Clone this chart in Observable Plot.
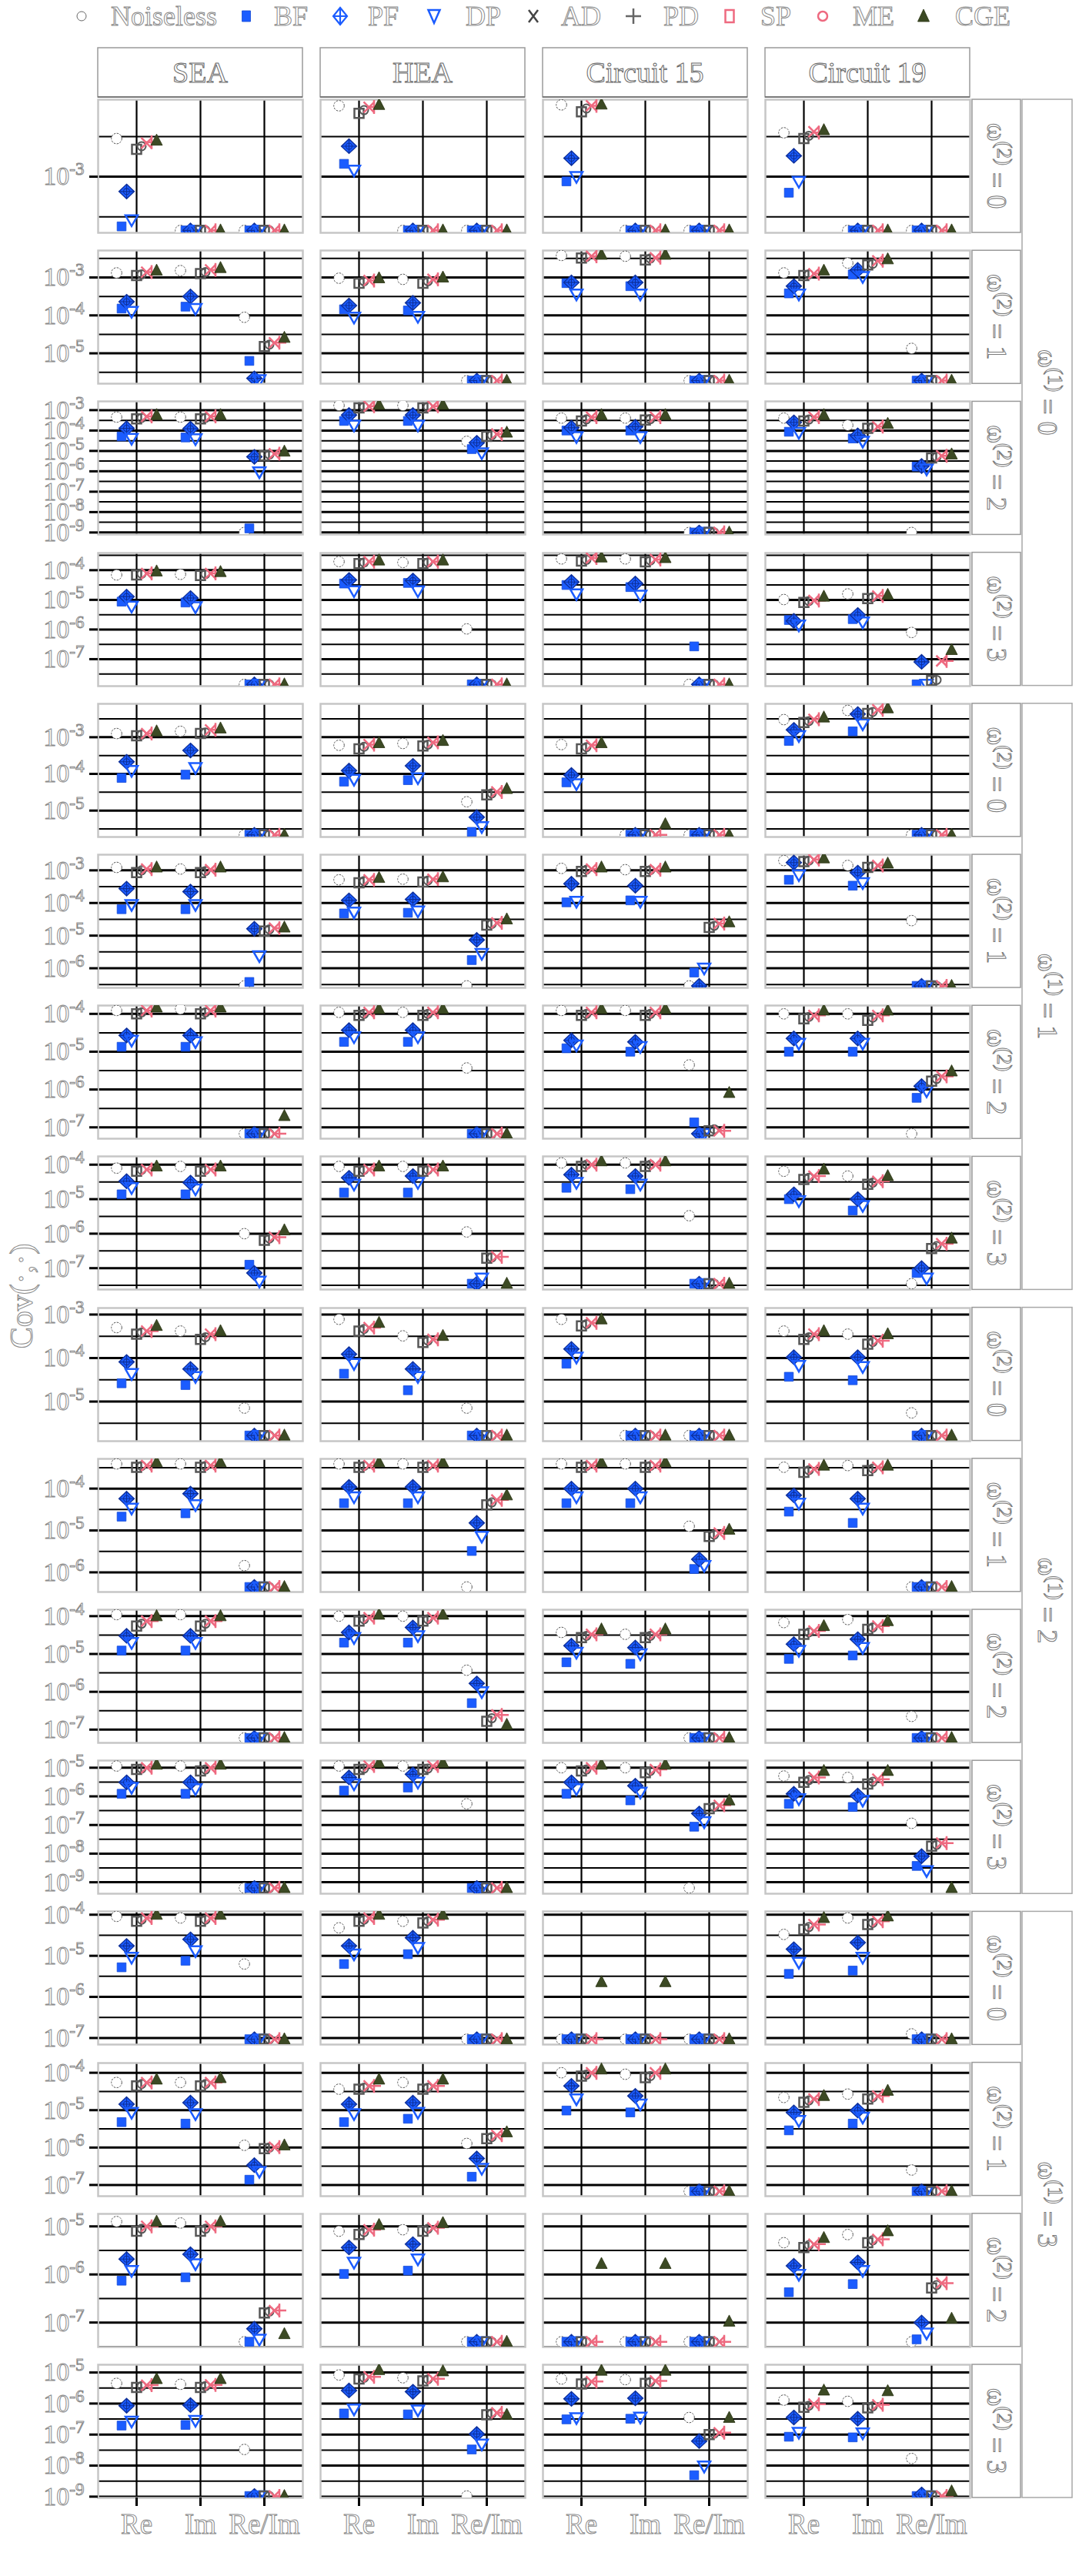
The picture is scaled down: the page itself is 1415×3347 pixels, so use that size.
<!DOCTYPE html>
<html><head><meta charset="utf-8">
<script src="https://cdn.jsdelivr.net/npm/d3@7"></script>
<script src="https://cdn.jsdelivr.net/npm/@observablehq/plot@0.6"></script>
<style>
body{margin:0;background:#fff;}
#chart{position:relative;width:1415px;height:3347px;overflow:hidden;background:#fff;}
#chart svg{position:absolute;left:0;}
</style></head><body><div id="chart"></div>
<script>
// ---------------- categories ----------------
const circuits = ["SEA", "HEA", "Circuit 15", "Circuit 19"];
const components = ["Re", "Im", "Re/Im"];
const methods = ["Noiseless", "BF", "PF", "DP", "AD", "PD", "SP", "ME", "CGE"];
const omega1Levels = [0, 1, 2, 3];
const omega2Levels = [0, 1, 2, 3];

// y range of each facet row (log10 of Cov), rows ordered w1=0..3 x w2=0..3
const yDomainLog10 = [
  [-3.70, -2.04], [-5.80, -2.29], [-9.10, -2.57], [-7.91, -3.42],
  [-5.72, -2.09], [-6.60, -2.52], [-7.30, -3.78], [-7.62, -3.76],
  [-5.91, -2.85], [-6.47, -3.29], [-7.35, -3.83], [-9.40, -4.75],
  [-7.16, -3.92], [-7.30, -3.74], [-7.51, -4.74], [-9.04, -4.75]
];

// values sitting on the bottom edge of each row (log10)
const F0 = -3.67, F1 = -5.72, F2 = -9.0, F3 = -7.85, F4 = -5.66, F5 = -6.54, F6 = -7.17, F7 = -7.45,
      F8 = -5.78, F9 = -6.35, F10 = -7.22, F11 = -9.2, F12 = -7.03, F13 = -7.17, F14 = -7.40, F15 = -8.98;

// log10 Cov values: [circuit][component Re, Im, Re/Im][method Noiseless,BF,PF,DP,AD,PD,SP,ME,CGE]
const log10Cov_w1_0_w2_0 = [
  [[-2.525,-3.62,-3.185,-3.54,-2.66,-2.62,-2.58,-2.57,-2.55],[F0,F0,F0,F0,F0,F0,F0,F0,F0],[F0,F0,F0,F0,F0,F0,F0,F0,F0]],
  [[-2.116,-2.84,-2.62,-2.92,-2.21,-2.17,-2.134,-2.13,-2.105],[F0,F0,F0,F0,F0,F0,F0,F0,F0],[F0,F0,F0,F0,F0,F0,F0,F0,F0]],
  [[-2.105,-3.058,-2.77,-3.0,-2.19,-2.15,-2.116,-2.116,-2.10],[F0,F0,F0,F0,F0,F0,F0,F0,F0],[F0,F0,F0,F0,F0,F0,F0,F0,F0]],
  [[-2.453,-3.20,-2.74,-3.06,-2.525,-2.49,-2.44,-2.45,-2.42],[F0,F0,F0,F0,F0,F0,F0,F0,F0],[F0,F0,F0,F0,F0,F0,F0,F0,F0]]
];
const log10Cov_w1_0_w2_1 = [
  [[-2.88,-3.82,-3.64,-3.90,-2.95,-2.92,-2.86,-2.86,-2.82],[-2.82,-3.77,-3.50,-3.82,-2.90,-2.86,-2.80,-2.80,-2.75],[-4.05,-5.20,-5.66,-5.70,-4.82,-4.77,-4.72,-4.72,-4.59]],
  [[-3.02,-3.84,-3.74,-4.05,-3.15,-3.10,-3.08,-3.08,-3.02],[-3.05,-3.87,-3.67,-4.03,-3.15,-3.10,-3.05,-3.05,-3.00],[F1,F1,F1,F1,F1,F1,F1,F1,F1]],
  [[-2.42,-3.15,-3.13,-3.44,-2.49,-2.46,-2.44,-2.44,-2.40],[-2.44,-3.23,-3.13,-3.44,-2.54,-2.50,-2.48,-2.48,-2.40],[F1,F1,F1,F1,F1,F1,F1,F1,F1]],
  [[-2.88,-3.42,-3.23,-3.44,-2.95,-2.92,-2.90,-2.90,-2.82],[-2.62,-2.92,-2.80,-2.98,-2.67,-2.64,-2.56,-2.56,-2.52],[-4.87,F1,F1,F1,F1,F1,F1,F1,F1]]
];
const log10Cov_w1_0_w2_2 = [
  [[-3.34,-4.29,-3.89,-4.39,-3.43,-3.38,-3.31,-3.31,-3.24],[-3.34,-4.34,-3.91,-4.41,-3.43,-3.38,-3.31,-3.31,-3.24],[F2,-8.80,-5.29,-6.03,-5.24,-5.18,-5.14,-5.14,-5.03]],
  [[-2.77,-3.53,-3.24,-3.74,-2.89,-2.84,-2.81,-2.81,-2.74],[-2.77,-3.53,-3.24,-3.74,-2.89,-2.84,-2.81,-2.81,-2.74],[-4.53,-4.91,-4.60,-5.10,-4.29,-4.23,-4.17,-4.17,-4.10]],
  [[-3.39,-4.00,-3.86,-4.31,-3.53,-3.45,-3.34,-3.34,-3.24],[-3.39,-4.00,-3.81,-4.31,-3.49,-3.44,-3.34,-3.34,-3.24],[F2,F2,F2,F2,F2,F2,F2,F2,F2]],
  [[-3.39,-4.06,-3.60,-4.10,-3.53,-3.46,-3.34,-3.34,-3.24],[-3.74,-4.39,-4.24,-4.53,-3.89,-3.84,-3.81,-3.81,-3.67],[F2,-5.77,-5.74,-5.89,-5.34,-5.29,-5.24,-5.24,-5.17]]
];
const log10Cov_w1_0_w2_3 = [
  [[-4.16,-5.06,-4.89,-5.22,-4.16,-4.12,-4.11,-4.11,-4.04],[-4.14,-5.09,-4.94,-5.24,-4.18,-4.13,-4.11,-4.11,-4.06],[F3,F3,F3,F3,F3,F3,F3,F3,F3]],
  [[-3.71,-4.45,-4.33,-4.70,-3.78,-3.74,-3.71,-3.71,-3.67],[-3.74,-4.43,-4.35,-4.70,-3.78,-3.74,-3.71,-3.71,-3.67],[-5.98,F3,F3,F3,F3,F3,F3,F3,F3]],
  [[-3.62,-4.50,-4.40,-4.80,-3.69,-3.65,-3.59,-3.59,-3.57],[-3.62,-4.57,-4.45,-4.85,-3.72,-3.67,-3.64,-3.64,-3.59],[F3,-6.57,F3,F3,F3,F3,F3,F3,F3]],
  [[-4.99,-5.68,-5.71,-5.85,-5.09,-5.04,-5.02,-5.02,-4.89],[-4.80,-5.65,-5.51,-5.75,-4.96,-4.91,-4.87,-4.87,-4.83],[-6.10,F3,-7.09,F3,-7.72,-7.70,-7.06,-7.06,-6.69]]
];
const log10Cov_w1_1_w2_0 = [
  [[-2.90,-4.11,-3.67,-3.91,-2.96,-2.93,-2.90,-2.90,-2.84],[-2.84,-4.02,-3.36,-3.83,-2.90,-2.87,-2.80,-2.80,-2.76],[F4,F4,F4,F4,F4,F4,F4,F4,F4]],
  [[-3.22,-4.21,-3.91,-4.15,-3.32,-3.26,-3.20,-3.20,-3.16],[-3.17,-4.17,-3.78,-4.11,-3.24,-3.20,-3.14,-3.14,-3.10],[-4.76,-5.58,-5.18,-5.44,-4.57,-4.53,-4.49,-4.49,-4.41]],
  [[-3.20,-4.23,-4.03,-4.27,-3.32,-3.27,-3.22,-3.22,-3.16],[F4,F4,F4,F4,F4,F4,F4,F4,-5.37],[F4,F4,F4,F4,F4,F4,F4,F4,F4]],
  [[-2.52,-3.10,-2.80,-2.96,-2.60,-2.56,-2.51,-2.51,-2.46],[-2.27,-2.84,-2.37,-2.64,-2.35,-2.31,-2.25,-2.25,-2.21],[F4,F4,F4,F4,F4,F4,F4,F4,F4]]
];
const log10Cov_w1_1_w2_1 = [
  [[-2.91,-4.19,-3.56,-4.05,-3.07,-3.00,-2.96,-2.96,-2.91],[-2.96,-4.19,-3.65,-4.05,-3.07,-3.02,-2.98,-2.98,-2.91],[F5,-6.42,-4.79,-5.62,-4.86,-4.81,-4.77,-4.77,-4.75]],
  [[-3.29,-4.32,-3.92,-4.28,-3.38,-3.33,-3.29,-3.29,-3.23],[-3.27,-4.30,-3.89,-4.25,-3.36,-3.31,-3.27,-3.27,-3.21],[F5,-5.75,-5.13,-5.55,-4.68,-4.64,-4.61,-4.61,-4.50]],
  [[-2.94,-3.98,-3.41,-3.95,-3.03,-2.98,-2.96,-2.96,-2.91],[-2.98,-3.92,-3.47,-3.95,-3.03,-2.99,-2.98,-2.98,-2.91],[F5,-6.13,F5,-6.00,-4.75,-4.70,-4.63,-4.63,-4.59]],
  [[-2.70,-3.29,-2.76,-3.14,-2.73,-2.70,-2.67,-2.67,-2.63],[-2.85,-3.47,-3.07,-3.38,-2.91,-2.88,-2.85,-2.85,-2.79],[-4.54,F5,F5,F5,F5,F5,F5,F5,F5]]
];
const log10Cov_w1_1_w2_2 = [
  [[-3.91,-4.87,-4.57,-4.70,-4.00,-3.96,-3.91,-3.91,-3.83],[-3.87,-4.87,-4.57,-4.74,-4.00,-3.96,-3.91,-3.91,-3.83],[F6,F6,F6,F6,F6,F6,F6,F6,-6.70]],
  [[-3.96,-4.74,-4.43,-4.61,-4.04,-4.00,-3.96,-3.96,-3.87],[-3.96,-4.74,-4.43,-4.61,-4.04,-4.00,-3.96,-3.96,-3.87],[-5.43,F6,F6,F6,F6,F6,F6,F6,F6]],
  [[-3.91,-4.91,-4.70,-4.83,-4.04,-4.00,-3.96,-3.96,-3.87],[-3.91,-5.00,-4.74,-4.87,-4.04,-4.00,-3.96,-3.96,-3.87],[-5.35,-6.87,F6,F6,-7.09,-7.05,-7.09,-7.09,-6.09]],
  [[-4.00,-5.00,-4.65,-4.78,-4.13,-4.08,-4.04,-4.04,-3.91],[-4.00,-5.00,-4.65,-4.78,-4.17,-4.10,-4.04,-4.04,-3.91],[F6,-6.22,-5.91,-6.04,-5.78,-5.72,-5.65,-5.65,-5.52]]
];
const log10Cov_w1_1_w2_3 = [
  [[-4.10,-4.86,-4.48,-4.67,-4.19,-4.15,-4.14,-4.14,-4.05],[-4.05,-4.86,-4.52,-4.71,-4.19,-4.15,-4.14,-4.14,-4.05],[-6.00,-6.90,-7.14,-7.38,-6.19,-6.14,-6.10,-6.10,-5.90]],
  [[-4.05,-4.81,-4.38,-4.57,-4.19,-4.15,-4.14,-4.14,-4.05],[-4.05,-4.81,-4.33,-4.52,-4.19,-4.15,-4.14,-4.14,-4.05],[-5.95,F7,F7,-7.29,-6.71,-6.69,-6.67,-6.67,F7]],
  [[-3.95,-4.67,-4.29,-4.52,-4.05,-4.00,-4.00,-4.00,-3.90],[-3.95,-4.71,-4.33,-4.57,-4.05,-4.00,-4.00,-4.00,-3.90],[-5.48,F7,F7,F7,F7,F7,F7,F7,F7]],
  [[-4.19,-5.00,-4.86,-5.05,-4.43,-4.38,-4.33,-4.33,-4.14],[-4.33,-5.33,-5.00,-5.19,-4.57,-4.52,-4.48,-4.48,-4.33],[F7,-7.14,-7.00,-7.29,-6.43,-6.36,-6.29,-6.29,-6.14]]
];
const log10Cov_w1_2_w2_0 = [
  [[-3.30,-4.58,-4.09,-4.36,-3.45,-3.41,-3.38,-3.38,-3.26],[-3.38,-4.62,-4.25,-4.43,-3.57,-3.52,-3.45,-3.45,-3.38],[-5.15,F8,F8,F8,F8,F8,F8,F8,F8]],
  [[-3.11,-4.36,-3.91,-4.13,-3.38,-3.33,-3.30,-3.30,-3.19],[-3.49,-4.74,-4.25,-4.43,-3.64,-3.60,-3.57,-3.57,-3.49],[-5.15,F8,F8,F8,F8,F8,F8,F8,F8]],
  [[-3.11,-4.13,-3.79,-3.98,-3.26,-3.22,-3.19,-3.19,-3.11],[F8,F8,F8,F8,F8,F8,F8,F8,F8],[F8,F8,F8,F8,F8,F8,F8,F8,F8]],
  [[-3.38,-4.43,-3.98,-4.17,-3.57,-3.52,-3.45,-3.45,-3.38],[-3.45,-4.51,-3.98,-4.20,-3.68,-3.63,-3.60,-3.60,-3.45],[-5.26,F8,F8,F8,F8,F8,F8,F8,F8]]
];
const log10Cov_w1_2_w2_1 = [
  [[-3.41,-4.67,-4.24,-4.47,-3.49,-3.46,-3.45,-3.45,-3.37],[-3.41,-4.59,-4.12,-4.39,-3.49,-3.46,-3.45,-3.45,-3.37],[-5.84,F9,F9,F9,F9,F9,F9,F9,F9]],
  [[-3.41,-4.35,-3.96,-4.20,-3.49,-3.46,-3.45,-3.45,-3.37],[-3.41,-4.35,-3.96,-4.20,-3.49,-3.46,-3.45,-3.45,-3.37],[F9,-5.49,-4.82,-5.14,-4.39,-4.33,-4.27,-4.27,-4.16]],
  [[-3.41,-4.35,-4.00,-4.20,-3.49,-3.46,-3.45,-3.45,-3.37],[-3.41,-4.35,-4.00,-4.20,-3.49,-3.46,-3.45,-3.45,-3.37],[-4.90,-5.92,-5.69,-5.84,-5.14,-5.10,-5.06,-5.06,-4.98]],
  [[-3.49,-4.55,-4.16,-4.35,-3.61,-3.56,-3.53,-3.53,-3.45],[-3.45,-4.82,-4.24,-4.47,-3.57,-3.52,-3.49,-3.49,-3.45],[F9,F9,F9,F9,F9,F9,F9,F9,F9]]
];
const log10Cov_w1_2_w2_2 = [
  [[-3.96,-4.91,-4.52,-4.70,-4.26,-4.20,-4.13,-4.13,-4.00],[-3.96,-4.91,-4.52,-4.70,-4.26,-4.20,-4.13,-4.13,-4.00],[F10,F10,F10,F10,F10,F10,F10,F10,F10]],
  [[-4.00,-4.70,-4.43,-4.57,-4.13,-4.08,-4.04,-4.04,-3.96],[-4.00,-4.70,-4.30,-4.52,-4.13,-4.08,-4.04,-4.04,-3.96],[-5.43,-6.30,-5.78,-6.00,-6.78,-6.70,-6.61,-6.61,-6.87]],
  [[-4.43,-5.22,-4.78,-4.96,-4.57,-4.52,-4.48,-4.48,-4.35],[-4.48,-5.26,-4.83,-5.00,-4.57,-4.52,-4.48,-4.48,-4.35],[F10,F10,F10,F10,F10,F10,F10,F10,F10]],
  [[-4.17,-5.13,-4.74,-4.91,-4.48,-4.43,-4.39,-4.39,-4.26],[-4.09,-5.04,-4.61,-4.83,-4.35,-4.30,-4.26,-4.26,-4.13],[-6.65,F10,F10,F10,F10,F10,F10,F10,F10]]
];
const log10Cov_w1_2_w2_3 = [
  [[-4.94,-5.91,-5.51,-5.69,-5.06,-5.03,-5.00,-5.00,-4.89],[-4.94,-5.91,-5.51,-5.74,-5.11,-5.06,-5.00,-5.00,-4.89],[F11,F11,F11,F11,F11,F11,F11,F11,F11]],
  [[-4.94,-5.80,-5.34,-5.57,-5.06,-5.03,-4.94,-4.94,-4.83],[-4.94,-5.69,-5.23,-5.51,-5.06,-5.03,-4.94,-4.94,-4.83],[-6.26,F11,F11,F11,F11,F11,F11,F11,F11]],
  [[-5.00,-5.91,-5.51,-5.74,-5.11,-5.06,-5.00,-5.00,-4.89],[-5.00,-6.14,-5.63,-5.86,-5.17,-5.11,-5.06,-5.06,-4.89],[F11,-7.06,-6.60,-6.89,-6.43,-6.37,-6.31,-6.31,-6.14]],
  [[-5.29,-6.26,-5.91,-6.09,-5.51,-5.43,-5.34,-5.34,-5.11],[-5.34,-6.37,-5.97,-6.14,-5.57,-5.49,-5.40,-5.40,-5.11],[-6.94,-8.43,-8.09,-8.60,-7.74,-7.69,-7.63,-7.63,F11]]
];
const log10Cov_w1_3_w2_0 = [
  [[-4.04,-5.28,-4.76,-5.04,-4.16,-4.12,-4.08,-4.08,-4.00],[-4.08,-5.12,-4.60,-4.88,-4.16,-4.12,-4.08,-4.08,-4.00],[-5.20,F12,F12,F12,F12,F12,F12,F12,F12]],
  [[-4.32,-5.20,-4.76,-4.96,-4.16,-4.12,-4.08,-4.08,-4.00],[-4.16,-4.96,-4.56,-4.80,-4.20,-4.16,-4.12,-4.12,-4.00],[F12,F12,F12,F12,F12,F12,F12,F12,F12]],
  [[F12,F12,F12,F12,F12,F12,F12,F12,-5.64],[F12,F12,F12,F12,F12,F12,F12,F12,-5.64],[F12,F12,F12,F12,F12,F12,F12,F12,F12]],
  [[-4.48,-5.44,-4.84,-5.16,-4.36,-4.30,-4.24,-4.24,-4.08],[-4.08,-5.36,-4.68,-5.04,-4.24,-4.20,-4.16,-4.16,-4.04],[-6.90,F12,F12,F12,F12,F12,F12,F12,F12]]
];
const log10Cov_w1_3_w2_1 = [
  [[-4.26,-5.32,-4.84,-5.06,-4.35,-4.30,-4.26,-4.26,-4.18],[-4.26,-5.36,-4.80,-5.10,-4.35,-4.30,-4.26,-4.26,-4.14],[-5.94,-6.86,-6.47,-6.64,-6.03,-6.00,-5.99,-5.99,-5.94]],
  [[-4.44,-5.32,-4.84,-5.10,-4.44,-4.40,-4.35,-4.35,-4.18],[-4.26,-5.23,-4.80,-5.06,-4.44,-4.40,-4.35,-4.35,-4.18],[-5.89,-6.78,-6.29,-6.56,-5.76,-5.72,-5.67,-5.67,-5.59]],
  [[-4.00,-5.01,-4.35,-4.70,-4.09,-4.05,-4.00,-4.00,-3.91],[-4.04,-5.06,-4.62,-4.84,-4.13,-4.09,-4.00,-4.00,-3.91],[F13,F13,F13,F13,F13,F13,F13,F13,F13]],
  [[-4.66,-5.54,-5.06,-5.28,-4.79,-4.74,-4.70,-4.70,-4.62],[-4.57,-5.36,-5.01,-5.19,-4.70,-4.66,-4.62,-4.62,-4.48],[-6.60,F13,F13,F13,F13,F13,F13,F13,F13]]
];
const log10Cov_w1_3_w2_2 = [
  [[-4.90,-6.13,-5.68,-5.92,-5.10,-5.05,-5.00,-5.00,-4.90],[-4.93,-6.06,-5.58,-5.78,-5.10,-5.05,-5.00,-5.00,-4.90],[F14,F14,-7.13,-7.35,-6.80,-6.77,-6.75,-6.75,-7.24]],
  [[-5.10,-5.99,-5.44,-5.75,-5.17,-5.12,-5.07,-5.07,-4.97],[-5.07,-5.92,-5.37,-5.68,-5.10,-5.05,-5.03,-5.03,-4.93],[F14,F14,F14,F14,F14,F14,F14,F14,F14]],
  [[F14,F14,F14,F14,F14,F14,F14,F14,-5.78],[F14,F14,F14,F14,F14,F14,F14,F14,-5.78],[F14,F14,F14,F14,F14,F14,F14,F14,-6.98]],
  [[-5.34,-6.37,-5.82,-6.00,-5.44,-5.39,-5.37,-5.37,-5.24],[-5.17,-6.20,-5.75,-5.92,-5.34,-5.29,-5.27,-5.27,-5.10],[F14,-7.35,-7.00,-7.22,-6.28,-6.22,-6.18,-6.18,-6.92]]
];
const log10Cov_w1_3_w2_3 = [
  [[-5.35,-6.71,-6.07,-6.57,-5.48,-5.44,-5.41,-5.41,-5.21],[-5.38,-6.69,-6.05,-6.55,-5.48,-5.44,-5.40,-5.40,-5.21],[-7.48,F15,F15,F15,F15,F15,F15,F15,F15]],
  [[-5.08,-6.32,-5.58,-6.18,-5.21,-5.17,-5.14,-5.14,-4.92],[-5.17,-6.35,-5.62,-6.21,-5.27,-5.22,-5.20,-5.20,-4.96],[F15,-7.48,-6.98,-7.31,-6.36,-6.32,-6.30,-6.30,-6.36]],
  [[-5.21,-6.51,-5.85,-6.46,-5.37,-5.32,-5.29,-5.29,-4.94],[-5.23,-6.49,-5.83,-6.44,-5.35,-5.31,-5.27,-5.27,-4.94],[-6.45,-8.31,-7.21,-8.02,-7.00,-6.97,-6.94,-6.94,-6.46]],
  [[-5.89,-7.07,-6.45,-6.93,-6.12,-6.07,-6.02,-6.02,-5.58],[-5.93,-7.09,-6.49,-6.95,-6.14,-6.09,-6.04,-6.04,-5.60],[-7.77,F15,-8.93,F15,F15,F15,F15,F15,-8.83]]
];

const rowTables = [
  log10Cov_w1_0_w2_0, log10Cov_w1_0_w2_1, log10Cov_w1_0_w2_2, log10Cov_w1_0_w2_3,
  log10Cov_w1_1_w2_0, log10Cov_w1_1_w2_1, log10Cov_w1_1_w2_2, log10Cov_w1_1_w2_3,
  log10Cov_w1_2_w2_0, log10Cov_w1_2_w2_1, log10Cov_w1_2_w2_2, log10Cov_w1_2_w2_3,
  log10Cov_w1_3_w2_0, log10Cov_w1_3_w2_1, log10Cov_w1_3_w2_2, log10Cov_w1_3_w2_3
];

// ---------------- marker shapes ----------------
const symNoiseless = {draw(c){ c.moveTo(6.8,0); c.arc(0,0,6.8,0,2*Math.PI); c.closePath(); }};
const symBF = {draw(c){ c.moveTo(-5.8,-5.8); c.lineTo(5.8,-5.8); c.lineTo(5.8,5.8); c.lineTo(-5.8,5.8); c.closePath(); }};
const symPF = {draw(c){ c.moveTo(0,-9.5); c.lineTo(10,0); c.lineTo(0,9.5); c.lineTo(-10,0); c.closePath(); }};
const symPFcross = {draw(c){ c.moveTo(0,-9); c.lineTo(0,9); c.moveTo(-9.5,0); c.lineTo(9.5,0); c.moveTo(4,0); c.arc(0,0,4,0,2*Math.PI); }};
const symDP = {draw(c){ c.moveTo(-8,-6); c.lineTo(8,-6); c.lineTo(0,8); c.closePath(); }};
const symAD = {draw(c){ c.moveTo(-6,-6); c.lineTo(6,-6); c.lineTo(6,6); c.lineTo(-6,6); c.closePath(); }};
const symPD = {draw(c){ c.moveTo(5.5,0); c.arc(0,0,5.5,0,2*Math.PI); c.closePath(); }};
const symSP = {draw(c){ c.moveTo(-7,-7); c.lineTo(7,7); c.moveTo(-7,7); c.lineTo(7,-7); }};
const symME = {draw(c){ c.moveTo(-9,0); c.lineTo(9,0); c.moveTo(0,-9); c.lineTo(0,9); }};
const symCGE = {draw(c){ c.moveTo(0,-8.5); c.lineTo(7.5,6); c.lineTo(-7.5,6); c.closePath(); }};

const BLUE = "#1b5cff", NAVY = "#0d2f99", GRAY = "#575757", PINK = "#ee6a80", OLIVE = "#3c4a24";
const markerStyles = [
  {symbol: symNoiseless, fill: "white", stroke: "#555", strokeWidth: 1, strokeDasharray: "2.5,1.5"},
  {symbol: symBF, fill: BLUE, stroke: "#1247d6", strokeWidth: 0.8},
  {symbol: symPF, fill: BLUE, stroke: NAVY, strokeWidth: 1.3, overlay: symPFcross},
  {symbol: symDP, fill: "none", stroke: BLUE, strokeWidth: 2.5},
  {symbol: symAD, fill: "none", stroke: GRAY, strokeWidth: 2.5},
  {symbol: symPD, fill: "none", stroke: GRAY, strokeWidth: 2},
  {symbol: symSP, fill: "none", stroke: PINK, strokeWidth: 2.5},
  {symbol: symME, fill: "none", stroke: PINK, strokeWidth: 2.5},
  {symbol: symCGE, fill: OLIVE, stroke: "#27310f", strokeWidth: 0.8}
];
const dodgePx = 6.5;

// ---------------- layout ----------------
const W = 1415, panelTop0 = 129, rowPitch = 196.2, panelH = 173;
const mLeft = 127, mRight = 155;
const chart = document.getElementById("chart");
const FONT = "Liberation Serif, Times New Roman, serif";
const plots = [];

rowTables.forEach((table, r) => {
  const [lo, hi] = yDomainLog10[r];
  const pts = [];
  table.forEach((byComp, ci) => byComp.forEach((vals, ki) => vals.forEach((v, mi) => {
    pts.push({circuit: circuits[ci], comp: components[ki], method: methods[mi], value: Math.pow(10, v)});
  })));
  const decades = d3.range(Math.ceil(lo), Math.floor(hi) + 1).map(k => Math.pow(10, k));
  const halves = d3.range(Math.ceil(lo - 0.5), Math.floor(hi - 0.5) + 1).map(k => Math.pow(10, k + 0.5));
  const isLast = r === rowTables.length - 1;
  const mt = 12, mb = isLast ? 75 : 12;
  const marks = [
    Plot.ruleY(halves, {stroke: "black", strokeWidth: 2}),
    Plot.ruleY(decades, {stroke: "black", strokeWidth: 3}),
    Plot.ruleX(components, {stroke: "black", strokeWidth: 2.2}),
    Plot.frame({stroke: "#c6c6c6", strokeWidth: 2.5}),
    Plot.axisY({ticks: decades, tickFormat: d => "10^" + Math.round(Math.log10(d)), tickSize: 11, tickPadding: 7, fontSize: 34, label: null, anchor: "left"})
  ];
  methods.forEach((m, mi) => {
    const st = markerStyles[mi];
    const data = pts.filter(d => d.method === m);
    const common = {x: "comp", y: "value", fx: "circuit", r: 5, dx: (mi - 4) * dodgePx, clip: true};
    marks.push(Plot.dot(data, {...common, symbol: st.symbol, fill: st.fill, stroke: st.stroke,
      strokeWidth: st.strokeWidth, strokeDasharray: st.strokeDasharray}));
    if (st.overlay) marks.push(Plot.dot(data, {...common, symbol: st.overlay, fill: "none", stroke: NAVY, strokeWidth: 1.1}));
  });
  if (isLast) marks.push(Plot.axisX({tickSize: 11, tickPadding: 9, fontSize: 37, label: null}));
  const p = Plot.plot({
    width: W, height: mt + panelH + mb,
    marginTop: mt, marginBottom: mb, marginLeft: mLeft, marginRight: mRight,
    style: {fontFamily: FONT, background: "transparent", overflow: "visible"},
    fx: {domain: circuits, paddingInner: 0.0796, paddingOuter: 0, round: false, axis: null, label: null},
    x: {type: "point", domain: components, padding: 0.6, axis: isLast ? undefined : null, label: null},
    y: {type: "log", domain: [Math.pow(10, lo), Math.pow(10, hi)], clamp: true, label: null},
    marks
  });
  p.style.position = "absolute";
  p.style.top = (panelTop0 + r * rowPitch - mt) + "px";
  chart.appendChild(p);
  plots.push(p);
  // style the axis texts: hollow grey-outlined glyphs, superscript exponents
  const s = d3.select(p);
  s.selectAll('g[aria-label="y-axis tick"]').attr("stroke", "#a8a8a8").attr("stroke-width", 3);
  s.selectAll('g[aria-label="y-axis tick label"]').attr("fill", "white").attr("stroke", "#8a8a8a").attr("stroke-width", 1)
    .selectAll("text").each(function() {
      const t = d3.select(this); const [base, ex] = t.text().split("^");
      t.text(null);
      t.append("tspan").text(base);
      t.append("tspan").attr("dy", "-13").attr("font-size", "23").text(ex);
    });
  s.selectAll('g[aria-label="x-axis tick"]').attr("stroke", "#a8a8a8").attr("stroke-width", 3);
  s.selectAll('g[aria-label="x-axis tick label"]').attr("fill", "white").attr("stroke", "#8a8a8a").attr("stroke-width", 1);
});

// ---------------- strips, legend, titles ----------------
const ov = d3.select(chart).append("svg").attr("width", W).attr("height", 3347).style("top", "0px")
  .style("pointer-events", "none").attr("font-family", FONT);
function hollow(sel, stroke = "#8a8a8a", w = 1) { return sel.attr("fill", "white").attr("stroke", stroke).attr("stroke-width", w); }

const fxs = plots[0].scale("fx");
const bw = fxs.bandwidth;
circuits.forEach(c => {
  const x0 = fxs.apply(c);
  ov.append("rect").attr("x", x0).attr("y", 62).attr("width", bw).attr("height", 64)
    .attr("fill", "white").attr("stroke", "#9a9a9a").attr("stroke-width", 1.5);
  ov.append("line").attr("x1", x0).attr("x2", x0 + bw).attr("y1", 126).attr("y2", 126).attr("stroke", "#666").attr("stroke-width", 1.5);
  hollow(ov.append("text").attr("x", x0 + bw / 2).attr("y", 107).attr("text-anchor", "middle").attr("font-size", 38).text(c), "#6a6a6a", 1);
});

const stripX0 = 1263, stripW = 63, outerX0 = 1328, outerW = 65;
omega1Levels.forEach((w1, g) => {
  const gTop = panelTop0 + (g * 4) * rowPitch;
  const gBot = panelTop0 + (g * 4 + 3) * rowPitch + panelH;
  ov.append("rect").attr("x", outerX0).attr("y", gTop).attr("width", outerW).attr("height", gBot - gTop)
    .attr("fill", "white").attr("stroke", "#a8a8a8").attr("stroke-width", 1.5);
  const t = hollow(ov.append("text").attr("transform", `translate(${outerX0 + outerW / 2},${(gTop + gBot) / 2}) rotate(90)`)
    .attr("text-anchor", "middle").attr("dominant-baseline", "central").attr("font-size", 36), "#7a7a7a", 1);
  t.append("tspan").text("ω");
  t.append("tspan").attr("dy", "-10").attr("font-size", 27).text("(1)");
  t.append("tspan").attr("dy", "10").text(" = " + w1);
  omega2Levels.forEach((w2, j) => {
    const top = panelTop0 + (g * 4 + j) * rowPitch;
    ov.append("rect").attr("x", stripX0).attr("y", top).attr("width", stripW).attr("height", panelH)
      .attr("fill", "white").attr("stroke", "#9a9a9a").attr("stroke-width", 1.5);
    const t2 = hollow(ov.append("text").attr("transform", `translate(${stripX0 + stripW / 2},${top + panelH / 2}) rotate(90)`)
      .attr("text-anchor", "middle").attr("dominant-baseline", "central").attr("font-size", 36), "#7a7a7a", 1);
    t2.append("tspan").text("ω");
    t2.append("tspan").attr("dy", "-10").attr("font-size", 27).text("(2)");
    t2.append("tspan").attr("dy", "10").text(" = " + w2);
  });
});

// y title
hollow(ov.append("text").attr("transform", "translate(42,1684) rotate(-90)").attr("text-anchor", "middle")
  .attr("font-size", 42).text("Cov(·,·)"), "#8a8a8a", 1);

// legend
const legSyms = [
  {sym: {draw(c){ c.moveTo(6,0); c.arc(0,0,6,0,2*Math.PI); }}, fill: "white", stroke: "#666", w: 1},
  {sym: {draw(c){ c.moveTo(-5.5,-7); c.lineTo(5.5,-7); c.lineTo(5.5,7); c.lineTo(-5.5,7); c.closePath(); }}, fill: BLUE, stroke: "#1247d6", w: 0.8},
  {sym: {draw(c){ c.moveTo(0,-11); c.lineTo(9,0); c.lineTo(0,11); c.lineTo(-9,0); c.closePath(); c.moveTo(0,-11); c.lineTo(0,11); c.moveTo(-9,0); c.lineTo(9,0); }}, fill: "white", stroke: BLUE, w: 2.2},
  {sym: {draw(c){ c.moveTo(-7.5,-8); c.lineTo(7.5,-8); c.lineTo(0,9); c.closePath(); }}, fill: "white", stroke: BLUE, w: 2.5},
  {sym: {draw(c){ c.moveTo(-6,-8); c.lineTo(6,8); c.moveTo(-6,8); c.lineTo(6,-8); }}, fill: "none", stroke: "#444", w: 2.5},
  {sym: {draw(c){ c.moveTo(-10,0); c.lineTo(10,0); c.moveTo(0,-10); c.lineTo(0,10); }}, fill: "none", stroke: "#666", w: 2.5},
  {sym: {draw(c){ c.moveTo(-5.5,-8); c.lineTo(5.5,-8); c.lineTo(5.5,8); c.lineTo(-5.5,8); c.closePath(); }}, fill: "white", stroke: PINK, w: 2.5},
  {sym: {draw(c){ c.moveTo(6,0); c.arc(0,0,6,0,2*Math.PI); }}, fill: "white", stroke: PINK, w: 2.5},
  {sym: {draw(c){ c.moveTo(0,-9); c.lineTo(7.5,7); c.lineTo(-7.5,7); c.closePath(); }}, fill: OLIVE, stroke: "#27310f", w: 0.8}
];
const legSymX = [106, 320, 442, 564, 693, 823, 948, 1069, 1200];
const legTextX = [144, 356, 478, 605, 729, 862, 988, 1108, 1241];
methods.forEach((m, i) => {
  const st = legSyms[i];
  ov.append("path").attr("transform", `translate(${legSymX[i]},21)`).attr("d", d3.symbol(st.sym, 64)())
    .attr("fill", st.fill).attr("stroke", st.stroke).attr("stroke-width", st.w);
  hollow(ov.append("text").attr("x", legTextX[i]).attr("y", 33).attr("font-size", 36).text(m), "#8a8a8a", 1);
});
</script></body></html>
